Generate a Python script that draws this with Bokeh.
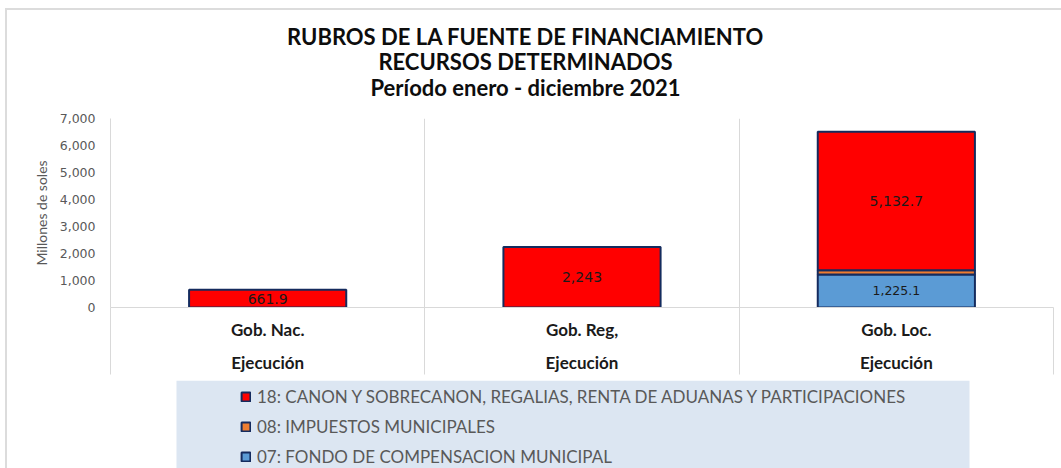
import numpy as np
from bokeh.plotting import figure
from bokeh.layouts import column
from bokeh.models import (Range1d, FixedTicker, NumeralTickFormatter, ColumnDataSource,
                          Legend, LegendItem, Label, BoxAnnotation)
from bokeh.embed import file_html
from bokeh.resources import INLINE
from bokeh.core.properties import value

# ---------------- data ----------------
title_lines = ["RUBROS DE LA FUENTE DE FINANCIAMIENTO",
               "RECURSOS DETERMINADOS",
               "Período enero - diciembre 2021"]
categories = ["Gob. Nac.", "Gob. Reg,", "Gob. Loc."]
sub_label = "Ejecución"
series_names = ["18: CANON Y SOBRECANON, REGALIAS, RENTA DE ADUANAS Y PARTICIPACIONES",
                "08: IMPUESTOS MUNICIPALES",
                "07: FONDO DE COMPENSACION MUNICIPAL"]
fondo_07 = [0.0, 0.0, 1225.1]
impuestos_08 = [0.0, 0.0, 150.0]
canon_18 = [661.9, 2243.0, 5132.7]
labels_07 = ["", "", "1,225.1"]
labels_18 = ["661.9", "2,243", "5,132.7"]
y_ticks = [0, 1000, 2000, 3000, 4000, 5000, 6000, 7000]
y_title = "Millones de soles"

# ---------------- styles ----------------
RED = "#ff0000"
ORANGE = "#ed7d31"
BLUE = "#5b9bd5"
EDGE = "#142b5e"
GRID = "#d9d9d9"
GREY_TXT = "#595959"
LEGEND_BG = "#dce6f2"
CHART_BORDER = "#dcdcdc"
W = 1061
BL, BR = 110, 8   # shared left / right borders

centers = [i + 0.5 for i in range(len(categories))]
bounds = [float(i) for i in range(len(categories) + 1)]


def strip(height):
    f = figure(width=W, height=height, x_range=Range1d(0, 1), y_range=Range1d(0, 1),
               output_backend="svg", toolbar_location=None, x_axis_type=None,
               y_axis_type=None, min_border_left=BL, min_border_right=BR,
               min_border_top=0, min_border_bottom=0)
    f.outline_line_color = None
    f.background_fill_alpha = 0
    f.border_fill_alpha = 0
    return f


# ---------------- title strip ----------------
tf = strip(110)
for txt, yy in zip(title_lines, [74, 49, 23]):
    tf.add_layout(Label(x=415, y=yy, x_units="screen", y_units="screen", text=txt,
                        text_align="center", text_baseline="middle", text_font="Lato",
                        text_font_style="bold", text_font_size="22px", text_color="#0d0d0d"))

# ---------------- main chart ----------------
src = ColumnDataSource(dict(x=centers, s07=fondo_07, s08=impuestos_08, s18=canon_18))

p = figure(width=W, height=270, x_range=Range1d(0, len(categories)),
           y_range=Range1d(0, 7000), output_backend="svg", toolbar_location=None,
           min_border_left=BL, min_border_right=BR, min_border_top=8,
           min_border_bottom=73)
p.outline_line_color = None
p.background_fill_alpha = 0
p.border_fill_alpha = 0

renderers = p.vbar_stack(["s07", "s08", "s18"], x="x", width=0.5, source=src,
                         fill_color=[BLUE, ORANGE, RED], line_color=EDGE, line_width=2)

lab_x, lab_y, lab_t, lab_s = [], [], [], []
for i in range(len(categories)):
    if labels_07[i]:
        lab_x.append(centers[i]); lab_y.append(fondo_07[i] / 2)
        lab_t.append(labels_07[i]); lab_s.append("12.5px")
    if labels_18[i]:
        lab_x.append(centers[i])
        lab_y.append(fondo_07[i] + impuestos_08[i] + canon_18[i] / 2)
        lab_t.append(labels_18[i]); lab_s.append("14px")
lsrc = ColumnDataSource(dict(x=lab_x, y=lab_y, t=lab_t, s=lab_s))
p.text(x="x", y="y", text="t", source=lsrc, text_align="center", text_baseline="middle",
       text_font=value("DejaVu Sans"), text_font_size="s", text_color="#1a1a1a")

p.ygrid.grid_line_color = None
p.xgrid.ticker = FixedTicker(ticks=bounds)
p.xgrid.grid_line_color = GRID

xa = p.xaxis[0]
xa.ticker = FixedTicker(ticks=centers, minor_ticks=bounds)
xa.major_label_overrides = {c: f"{cat}\n\n{sub_label}" for c, cat in zip(centers, categories)}
xa.axis_line_color = GRID
xa.major_tick_line_color = None
xa.major_tick_out = 0
xa.major_tick_in = 0
xa.minor_tick_line_color = GRID
xa.minor_tick_out = 67
xa.minor_tick_in = 0
xa.major_label_standoff = -56
xa.major_label_text_line_height = 0.80
xa.major_label_text_font = "Lato"
xa.major_label_text_font_style = "bold"
xa.major_label_text_font_size = "17px"
xa.major_label_text_color = "#1a1a1a"

ya = p.yaxis[0]
ya.ticker = FixedTicker(ticks=y_ticks)
ya.formatter = NumeralTickFormatter(format="0,0")
ya.axis_line_color = GRID
ya.major_tick_line_color = None
ya.minor_tick_line_color = None
ya.major_tick_out = 0
ya.major_tick_in = 0
ya.major_label_standoff = 15
ya.major_label_text_font = "DejaVu Sans"
ya.major_label_text_font_size = "12.5px"
ya.major_label_text_color = GREY_TXT
ya.axis_label = y_title
ya.axis_label_text_font = "Lato"
ya.axis_label_text_font_style = "normal"
ya.axis_label_text_font_size = "14px"
ya.axis_label_text_color = GREY_TXT
ya.axis_label_standoff = 7

# ---------------- legend strip ----------------
lf = strip(88)
lf.add_layout(BoxAnnotation(left=66, right=859, left_units="screen", right_units="screen",
                            fill_color=LEGEND_BG, fill_alpha=1.0, line_color=None))
proxy = {}
for key, col in zip(["18", "08", "07"], [RED, ORANGE, BLUE]):
    proxy[key] = lf.vbar(x=np.array([np.nan]), top=np.array([np.nan]), width=0.5,
                         fill_color=col, line_color=EDGE, line_width=2)
items = [LegendItem(label=n, renderers=[proxy[n[:2]]]) for n in series_names]
legend = Legend(items=items, location=(130, 1), padding=6, spacing=9,
                label_height=20, glyph_height=11, glyph_width=11, label_standoff=6,
                background_fill_alpha=0, border_line_color=None, margin=0,
                label_text_font="Lato", label_text_font_size="17px",
                label_text_color=GREY_TXT)
lf.add_layout(legend, "center")

chart_bg = ("linear-gradient({c},{c}) 5px 8px / 2px 460px no-repeat, "
            "linear-gradient({c},{c}) 5px 8px / 1056px 2px no-repeat, #ffffff").format(c=CHART_BORDER)
layout = column(tf, p, lf, spacing=0, styles={"background": chart_bg})
open("out.html", "w").write(file_html(layout, INLINE))
